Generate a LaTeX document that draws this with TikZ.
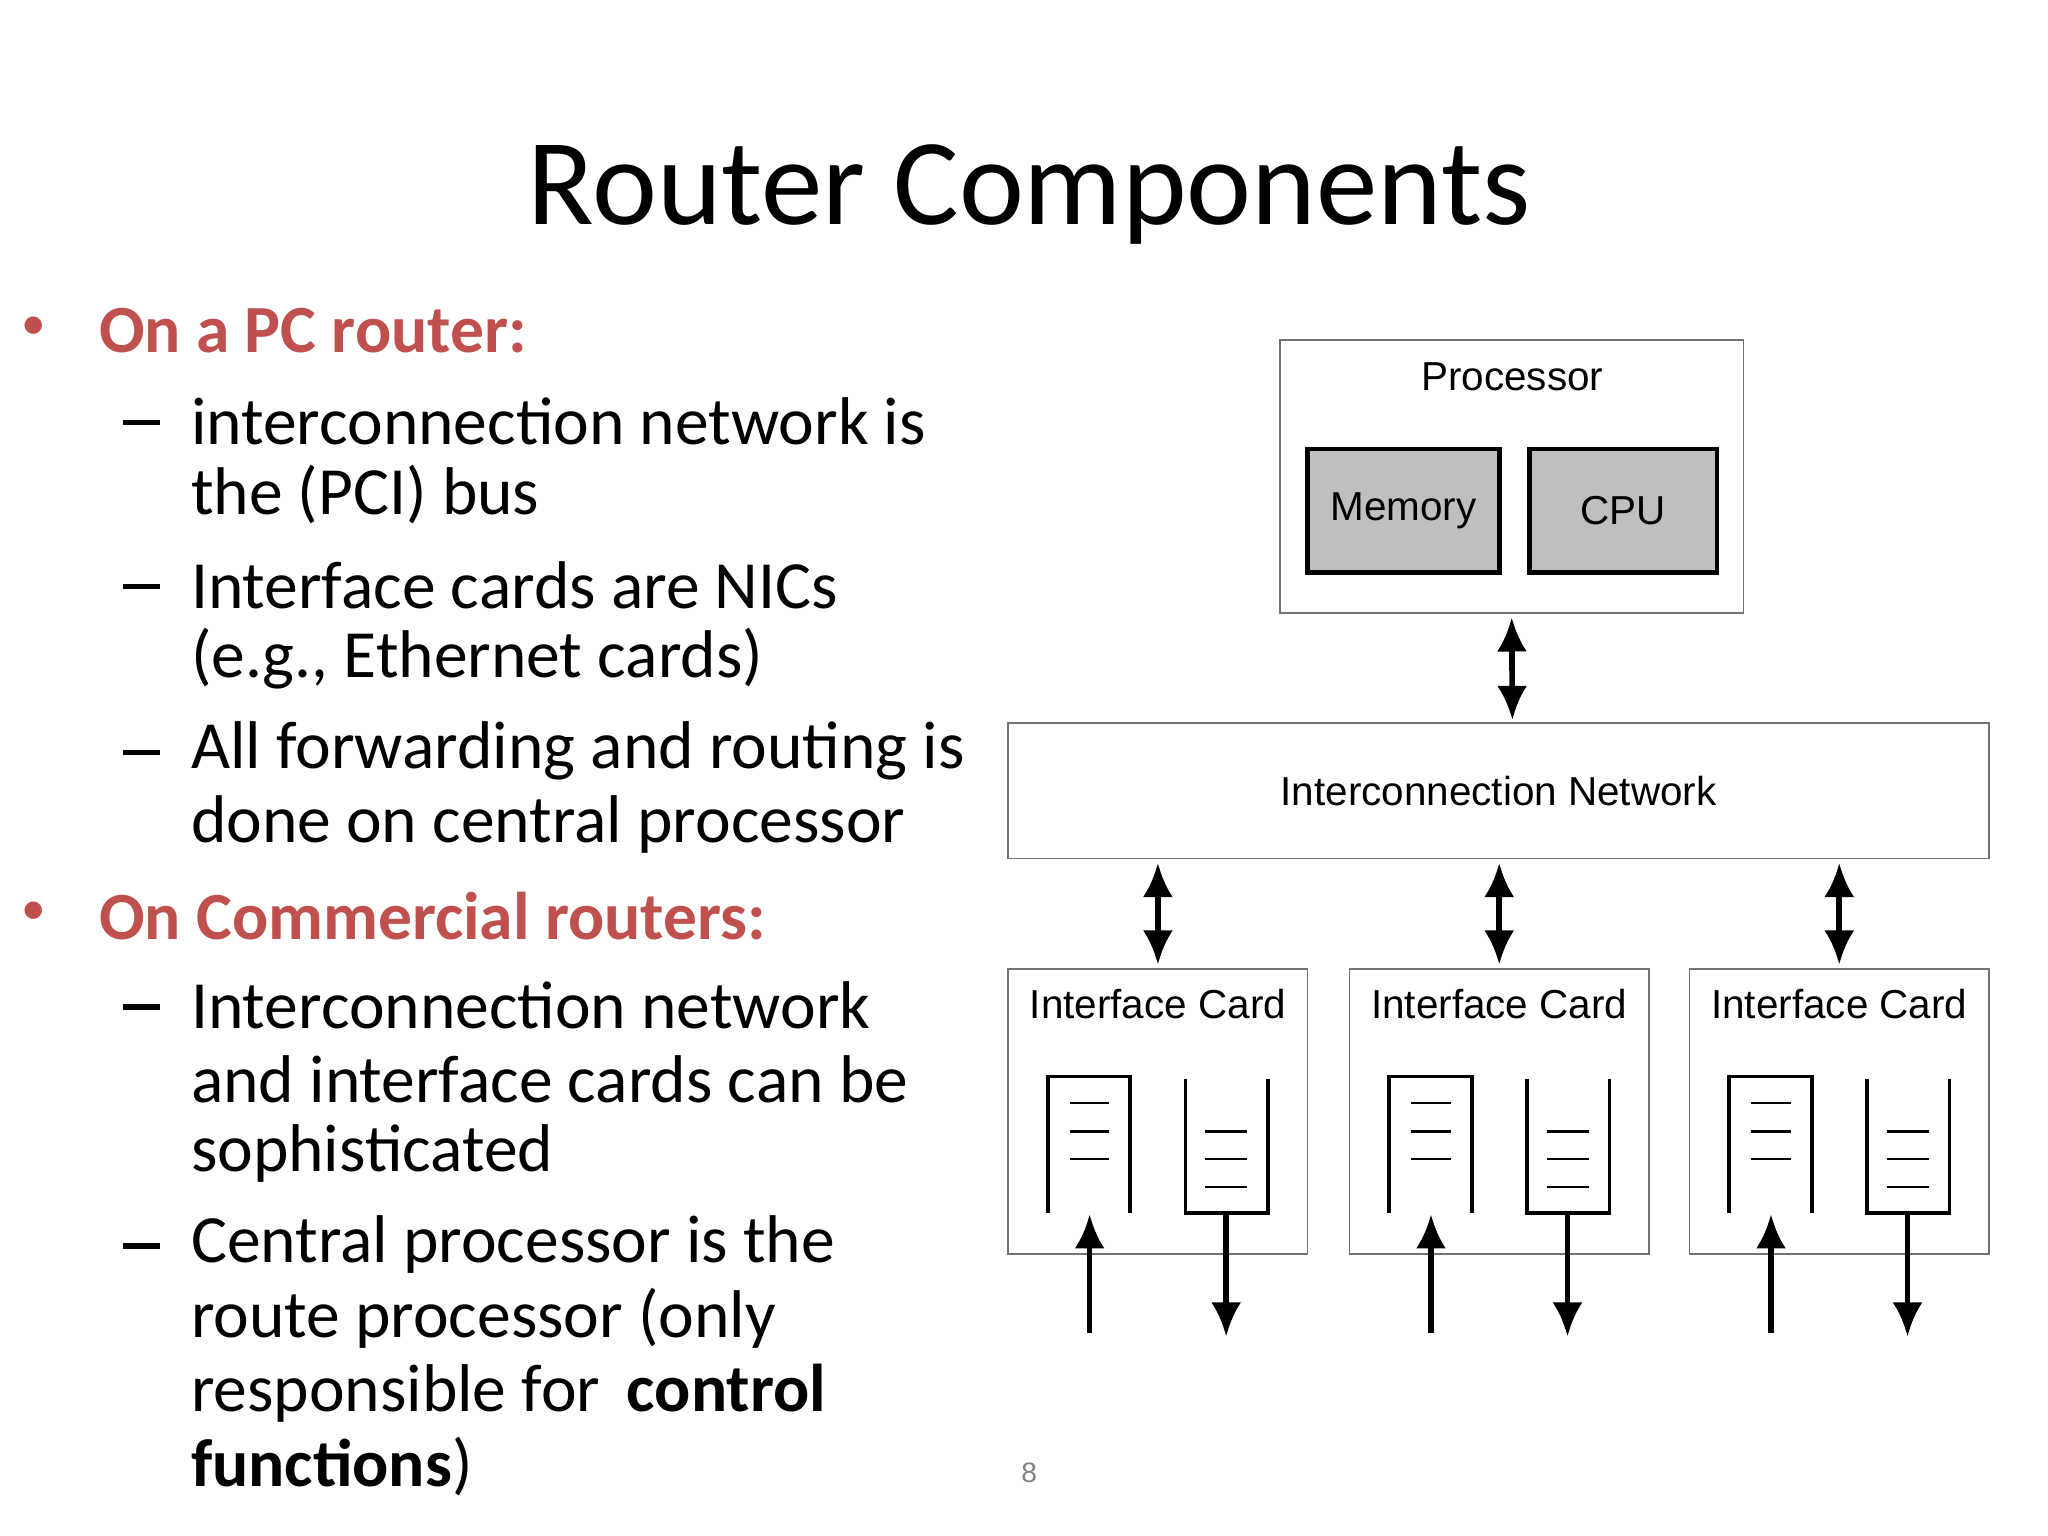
\documentclass[tikz,border=0pt]{standalone}
\usepackage{fontspec}
\usetikzlibrary{arrows.meta}
\setmainfont{Carlito}
\newfontfamily\arialf{Liberation Sans}
\definecolor{hred}{HTML}{C0504D}
\definecolor{boxgray}{HTML}{BFBFBF}
\begin{document}
\begin{tikzpicture}[x=0.013128cm,y=-0.013128cm,
  txt/.style={anchor=west,inner sep=0,font=\fontsize{19.2}{22}\selectfont},
  head/.style={txt,text=hred,font=\fontsize{19.2}{22}\selectfont\bfseries},
  box/.style={draw=black!55,line width=0.5pt},
  lab/.style={font=\arialf\fontsize{11.5}{13}\selectfont,inner sep=0},
  tip/.style={Latex[length=3.4mm,width=3mm]},
  arr/.style={line width=1.6pt,-{Latex[length=3.4mm,width=3mm]}},
  darr/.style={line width=1.6pt,{Latex[length=3.4mm,width=3mm]}-{Latex[length=3.4mm,width=3mm]}},
  q/.style={line width=1.1pt}]
\useasboundingbox (0,0) rectangle (1560,1170);
\node[inner sep=0,font=\fontsize{35}{40}\selectfont] (title) at (784,148) {Router Components};
\node[text=hred,inner sep=0,font=\fontsize{14}{16}\selectfont] (b1) at (26,250) {•};
\node[head] (h1) at (75,252) {On a PC router:};
\foreach \y/\t [count=\i] in {321/interconnection network is,377/the (PCI) bus,446/Interface cards are NICs,502/{(e.g., Ethernet cards)},572/All forwarding and routing is,628/done on central processor,766/Interconnection network,822/and interface cards can be,879/sophisticated,948/Central processor is the,1004/route processor (only,1061/responsible for \,\textbf{control},1117/\textbf{functions})}
  \node[txt] (l\i) at (145,\y) {\t};
\foreach \y [count=\i] in {321,446,572,766,948}
  \node[inner sep=0,minimum width=28*0.013128cm,minimum height=1.5pt,fill=black] (d\i) at (108,\y+1) {};
\node[text=hred,inner sep=0,font=\fontsize{14}{16}\selectfont] (b2) at (26,696) {•};
\node[head] (h2) at (75,698) {On Commercial routers:};
\node[font=\arialf\fontsize{8}{9}\selectfont,text=black!50] (pg) at (784,1122) {8};
% processor
\node[box,minimum width=353*0.013128cm,minimum height=208*0.013128cm] (proc) at (1151.5,363) {};
\node[lab] (proct) at (1152,287) {Processor};
\node[draw,fill=boxgray,line width=1.3pt,minimum width=146*0.013128cm,minimum height=94*0.013128cm,lab] (mem) at (1069,389) {Memory};
\node[draw,fill=boxgray,line width=1.3pt,minimum width=143*0.013128cm,minimum height=94*0.013128cm,lab] (cpu) at (1236.5,389) {CPU};
\node[box,minimum width=747*0.013128cm,minimum height=103*0.013128cm,lab] (net) at (1141.5,602.5) {Interconnection Network};
\draw[darr,shorten <=1pt,shorten >=1pt] (proc.south) -- (1152,551);
\foreach \dx [count=\k] in {0,260,519}{
  \node[box,minimum width=228*0.013128cm,minimum height=217*0.013128cm] (card\k) at (882+\dx,846.5) {};
  \node[lab] (ct\k) at (882+\dx,765) {Interface Card};
  \draw[darr,shorten <=1pt,shorten >=1pt] (net.south -| card\k.north) -- (card\k.north);
  \draw[q] (798+\dx,924) -- (798+\dx,820) -- (861+\dx,820) -- (861+\dx,924);
  \foreach \yy in {840,862,883} \draw[line width=0.7pt] (815+\dx,\yy) -- (845+\dx,\yy);
  \draw[q] (903+\dx,822) -- (903+\dx,924) -- (966+\dx,924) -- (966+\dx,822);
  \foreach \yy in {862,883,904} \draw[line width=0.7pt] (918+\dx,\yy) -- (950+\dx,\yy);
  \coordinate (in\k) at (830+\dx,1015);
  \coordinate (out\k) at (934+\dx,1018);
  \draw[arr] (in\k) -- (830+\dx,925);
  \draw[arr] (934+\dx,924) -- (out\k);
}
\end{tikzpicture}
\end{document}
